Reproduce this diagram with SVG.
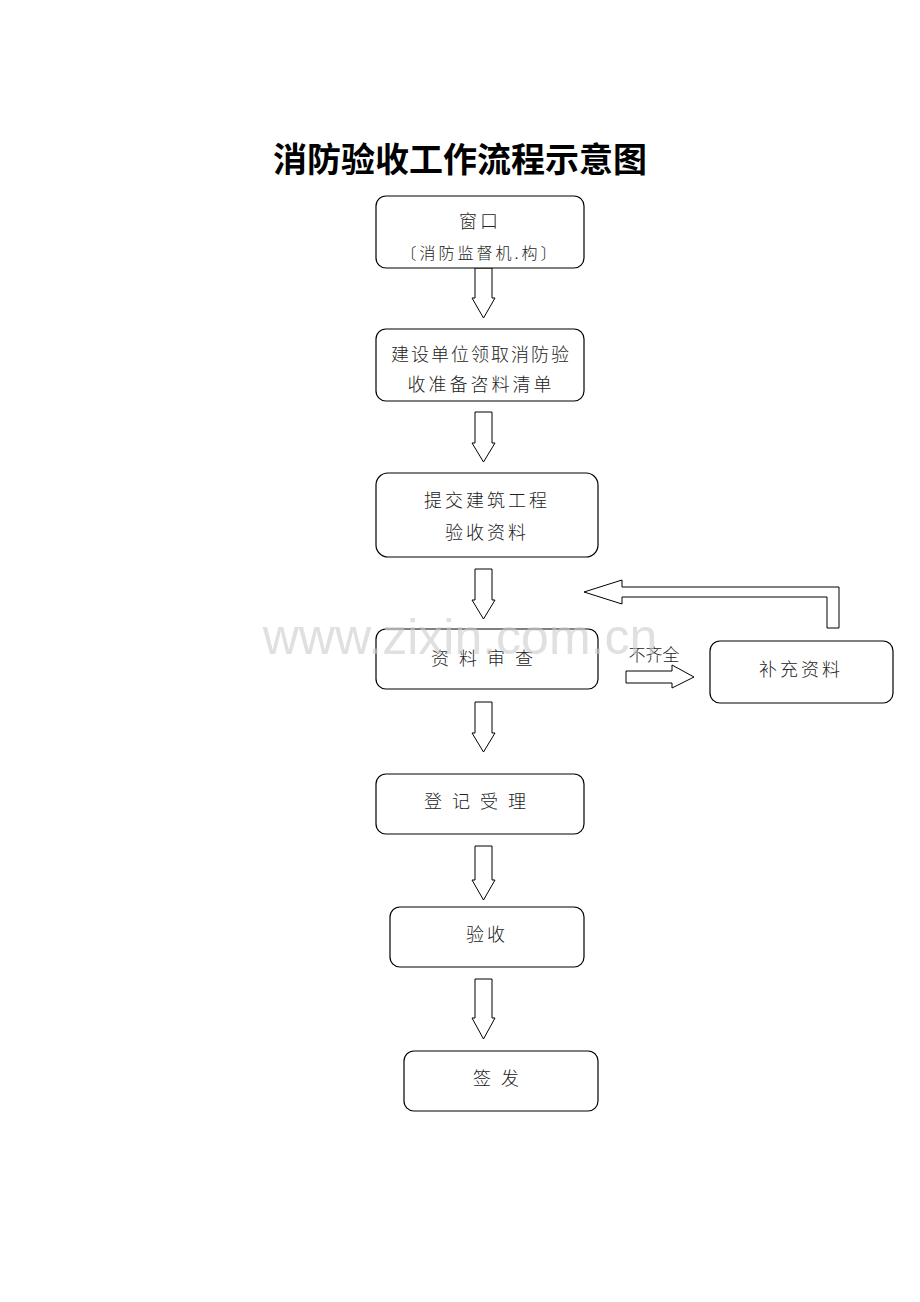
<svg xmlns="http://www.w3.org/2000/svg" width="920" height="1302" viewBox="0 0 920 1302">
<style>
.b{fill:#fff;stroke:#000;stroke-width:1.2}
.a{fill:#fff;stroke:#000;stroke-width:1}
text{font-family:"Noto Sans CJK SC","Noto Sans CJK JP",sans-serif;font-size:18px;font-weight:300;fill:#222;text-anchor:middle;letter-spacing:3px}
.t{font-family:"Liberation Serif","Noto Sans CJK SC",serif;font-size:34px;font-weight:bold;fill:#000;letter-spacing:0}
.w{font-family:"Liberation Sans",sans-serif;font-size:50px;font-weight:normal;fill:#ccc;fill-opacity:0.6;letter-spacing:0}
</style>
<rect width="920" height="1302" fill="#fff"/>
<text class="t" x="460" y="172">消防验收工作流程示意图</text>
<g id="connectors">
<polygon class="a" points="475,268 492,268 492,298 495,298 483.5,318 472,298 475,298"/>
<polygon class="a" points="475,412 492,412 492,443 495,443 483.5,462 472,443 475,443"/>
<polygon class="a" points="475,569 492,569 492,600 495,600 483.5,619 472,600 475,600"/>
<polygon class="a" points="475,702 492,702 492,733 495,733 483.5,752 472,733 475,733"/>
<polygon class="a" points="475,846 492,846 492,880 495,880 483.5,900 472,880 475,880"/>
<polygon class="a" points="475,979 492,979 492,1018 495,1018 483.5,1039 472,1018 475,1018"/>
<polygon class="a" points="626,671 672,671 672,665 694,677 672,688 672,683 626,683"/>
<polygon class="a" points="827,628 839,628 839,587 622,587 622,580 584,592 622,604 622,597 827,597"/>
<text x="654" y="661" style="font-size:17px;letter-spacing:0">不齐全</text>
</g>
<g id="n1"><rect class="b" x="376" y="196" width="208" height="72" rx="10"/><text x="480" y="228">窗口</text><text x="480" y="259" style="font-size:16px">〔消防监督机.构〕</text></g>
<g id="n2"><rect class="b" x="376" y="329" width="208" height="72" rx="10"/><text x="481" y="361" style="letter-spacing:2px">建设单位领取消防验</text><text x="481" y="391">收准备咨料清单</text></g>
<g id="n3"><rect class="b" x="376" y="473" width="222" height="84" rx="12"/><text x="487" y="507">提交建筑工程</text><text x="487" y="539">验收资料</text></g>
<g id="n4"><rect class="b" x="376" y="629" width="222" height="60" rx="10"/><text x="487" y="665" style="letter-spacing:10px">资料审查</text></g>
<g id="n5"><rect class="b" x="710" y="641" width="183" height="62" rx="10"/><text x="801" y="676">补充资料</text></g>
<g id="n6"><rect class="b" x="376" y="774" width="208" height="60" rx="10"/><text x="480" y="808" style="letter-spacing:10px">登记受理</text></g>
<g id="n7"><rect class="b" x="390" y="907" width="194" height="60" rx="10"/><text x="487" y="941">验收</text></g>
<g id="n8"><rect class="b" x="404" y="1051" width="194" height="60" rx="10"/><text x="501" y="1085" style="letter-spacing:10px">签发</text></g>
<text class="w" x="460" y="654">www.zixin.com.cn</text>
</svg>
